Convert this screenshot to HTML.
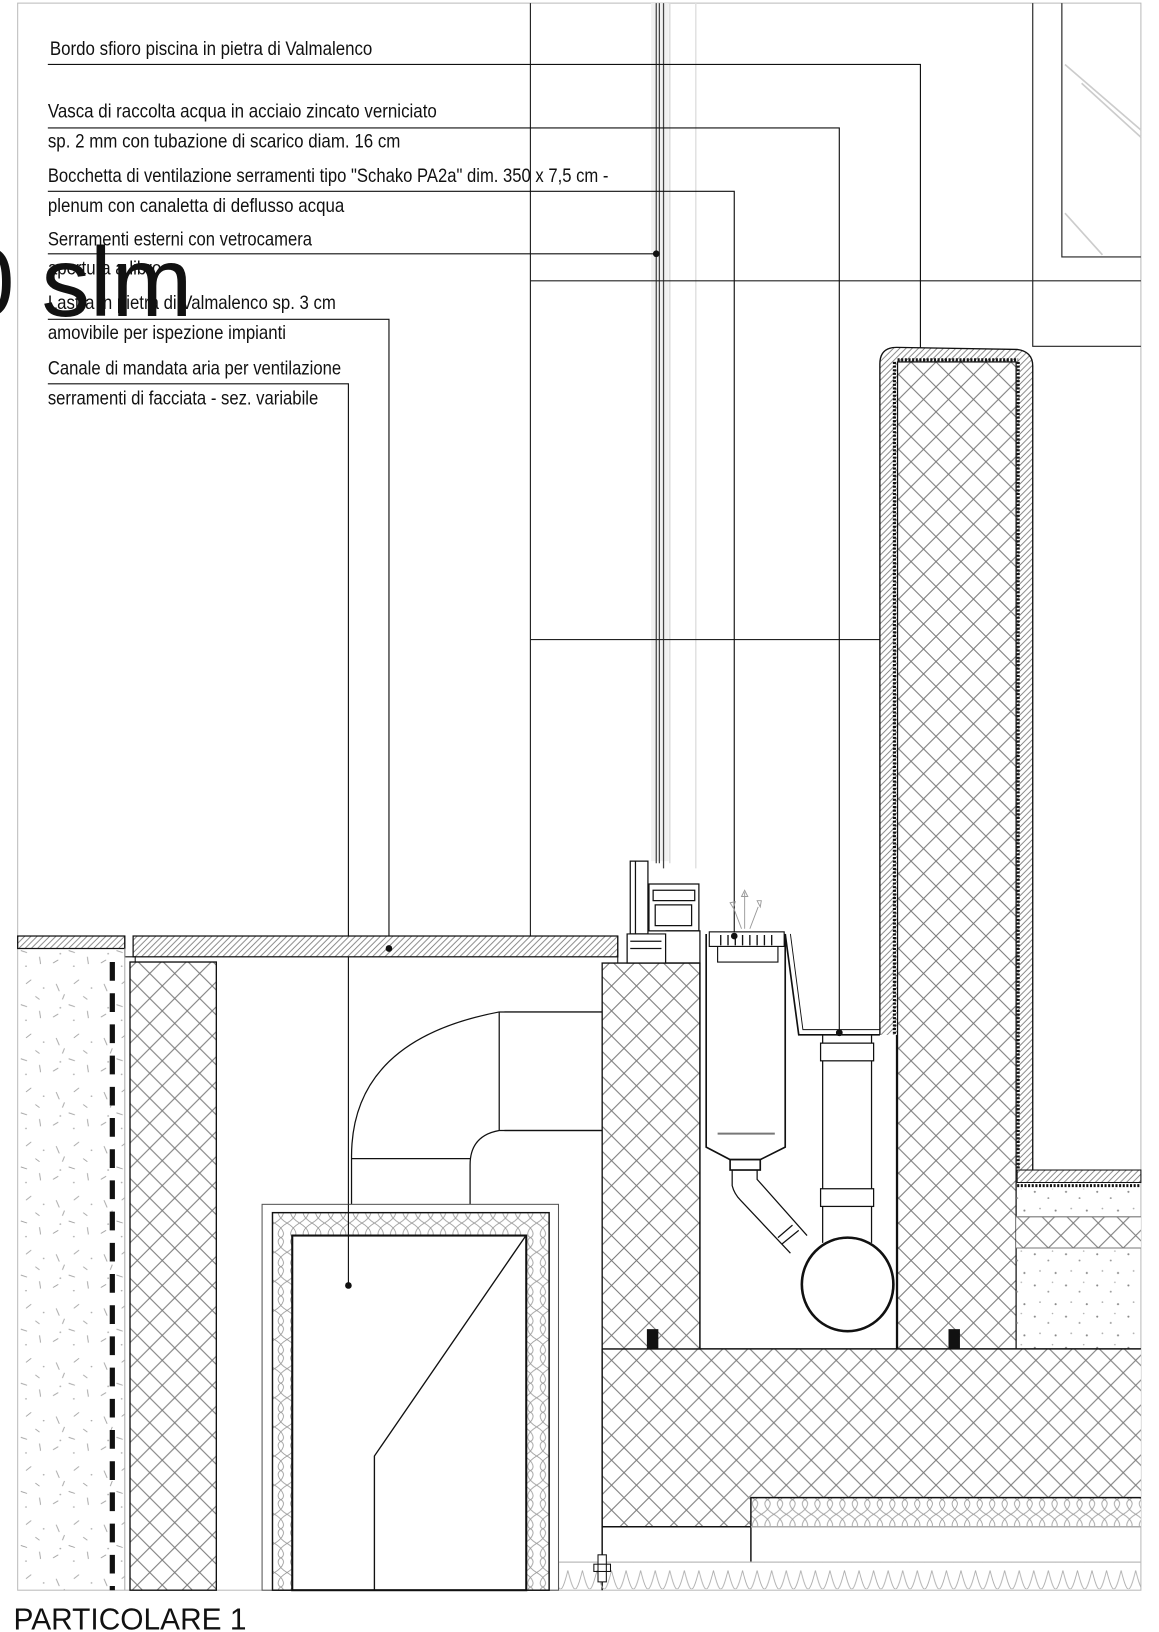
<!DOCTYPE html>
<html><head><meta charset="utf-8"><style>
html,body{margin:0;padding:0;background:#fff;}
svg{display:block;}
text{font-family:"Liberation Sans Narrow","Liberation Sans",sans-serif;fill:#111;}
</style></head><body>
<svg width="1159" height="1632" viewBox="0 0 1114.4 1569.2" preserveAspectRatio="none" xmlns="http://www.w3.org/2000/svg">
<defs>
<pattern id="cr" patternUnits="userSpaceOnUse" width="24" height="24">
<rect width="24" height="24" fill="#fff"/>
<path d="M0 0L24 24M24 0L0 24" stroke="#7a7a7a" stroke-width="1" fill="none"/>
</pattern>
<pattern id="ht" patternUnits="userSpaceOnUse" width="6" height="6">
<rect width="6" height="6" fill="#fff"/>
<path d="M-1 7L7 -1M-1 1L1 -1M5 7L7 5" stroke="#777" stroke-width="0.8"/>
</pattern>
<pattern id="sp" patternUnits="userSpaceOnUse" width="46" height="52">
<path d="M8 10l3 7M30 6l-5 4M20 30l6 2M38 36l1 7M5 42l5-3M16 20l-2 5M34 22l4 3" stroke="#999" stroke-width="0.8"/>
<circle cx="25" cy="45" r="0.8" fill="#aaa"/><circle cx="42" cy="14" r="0.8" fill="#aaa"/><circle cx="12" cy="33" r="0.8" fill="#aaa"/>
</pattern>
<pattern id="sp2" patternUnits="userSpaceOnUse" width="30" height="30">
<circle cx="5" cy="6" r="1" fill="#888"/><circle cx="18" cy="12" r="0.9" fill="#999"/><circle cx="25" cy="24" r="1" fill="#888"/><circle cx="10" cy="22" r="0.8" fill="#aaa"/><circle cx="22" cy="3" r="0.7" fill="#aaa"/>
</pattern>
<pattern id="wv" patternUnits="userSpaceOnUse" width="12" height="28">
<rect width="12" height="28" fill="#fff"/>
<path d="M0 0C10 6 10 12 6 14C2 16 2 22 12 28M12 0C2 6 2 12 6 14C10 16 10 22 0 28" stroke="#999" stroke-width="0.8" fill="none"/>
</pattern>
<pattern id="wvh" patternUnits="userSpaceOnUse" width="14" height="26">
<path d="M0 2C6 26 8 26 14 2" stroke="#aaa" stroke-width="0.8" fill="none"/>
</pattern>
</defs>

<!-- page frame -->
<rect x="17" y="3" width="1080" height="1526" fill="none" stroke="#bbb" stroke-width="1"/>

<!-- glass -->
<rect x="626" y="3" width="17" height="825" fill="#f1f1f1"/>
<g stroke="#444" stroke-width="1.2">
<path d="M631 3V830M634 3V830M638 3V835"/>
</g>
<path d="M644 3V830" stroke="#ddd" stroke-width="1.5"/>
<path d="M669 3V835" stroke="#e2e2e2" stroke-width="1.5"/>

<!-- top grid lines -->
<g stroke="#222" stroke-width="1.1" fill="none">
<path d="M510 3V900"/>
<path d="M510 270H1097"/>
<path d="M510 615H846"/>
<path d="M993 3V333H1097"/>
<path d="M1021 3V247H1097"/>
</g>
<g stroke="#ccc" stroke-width="1.6">
<path d="M1024 62L1097 125M1040 80L1097 132M1024 205L1060 245"/>
</g>

<!-- texts -->
<g font-size="19">
<text x="48" y="53" textLength="310" lengthAdjust="spacingAndGlyphs">Bordo sfioro piscina in pietra di Valmalenco</text>
<text x="46" y="113" textLength="374" lengthAdjust="spacingAndGlyphs">Vasca di raccolta acqua in acciaio zincato verniciato</text>
<text x="46" y="142" textLength="339" lengthAdjust="spacingAndGlyphs">sp. 2 mm con tubazione di scarico diam. 16 cm</text>
<text x="46" y="175" textLength="539" lengthAdjust="spacingAndGlyphs">Bocchetta di ventilazione serramenti tipo "Schako PA2a" dim. 350 x 7,5 cm -</text>
<text x="46" y="204" textLength="285" lengthAdjust="spacingAndGlyphs">plenum con canaletta di deflusso acqua</text>
<text x="46" y="236" textLength="254" lengthAdjust="spacingAndGlyphs">Serramenti esterni con vetrocamera</text>
<text x="46" y="264" textLength="109" lengthAdjust="spacingAndGlyphs">apertura a libro</text>
<text x="46" y="297" textLength="277" lengthAdjust="spacingAndGlyphs">Lastra in pietra di Valmalenco sp. 3 cm</text>
<text x="46" y="326" textLength="229" lengthAdjust="spacingAndGlyphs">amovibile per ispezione impianti</text>
<text x="46" y="360" textLength="282" lengthAdjust="spacingAndGlyphs">Canale di mandata aria per ventilazione</text>
<text x="46" y="389" textLength="260" lengthAdjust="spacingAndGlyphs">serramenti di facciata - sez. variabile</text>
</g>
<text x="-38" y="304" font-size="95" textLength="223" lengthAdjust="spacingAndGlyphs" style="font-family:'Liberation Sans',sans-serif">0 slm</text>
<text x="13" y="1567" font-size="29" textLength="224" lengthAdjust="spacingAndGlyphs" style="font-family:'Liberation Sans Narrow','Liberation Sans',sans-serif">PARTICOLARE 1</text>

<!-- leader lines -->
<g stroke="#111" stroke-width="1.1" fill="none">
<path d="M46 62H885V337"/>
<path d="M46 123H807V993"/>
<path d="M46 184H706V900"/>
<path d="M46 244H631"/>
<path d="M46 307H374V912"/>
<path d="M46 369H335V1236"/>
</g>
<g fill="#111">
<circle cx="885" cy="337" r="3.2"/><circle cx="807" cy="993" r="3.2"/><circle cx="706" cy="900" r="3.2"/>
<circle cx="631" cy="244" r="3.2"/><circle cx="374" cy="912" r="3.2"/><circle cx="335" cy="1236" r="3.2"/>
</g>

<!-- tall right wall -->
<path d="M846 995V350Q846 334 862 334L978 336Q993 338 993 352V1130H978V995Z" fill="url(#ht)" stroke="none"/>
<path d="M846 995V350Q846 334 862 334L978 336Q993 338 993 352V1130H978" fill="none" stroke="#111" stroke-width="1.3"/>
<rect x="863" y="348" width="114" height="950" fill="url(#cr)" stroke="#111" stroke-width="1.2"/>
<path d="M860 348V995M979 348V1132M863 346H979" stroke="#111" stroke-width="3" stroke-dasharray="2 1.5"/>
<!-- right lower layers -->
<rect x="978" y="1125" width="119" height="12" fill="url(#ht)" stroke="#111" stroke-width="1"/>
<path d="M978 1140H1097" stroke="#111" stroke-width="3" stroke-dasharray="2 1.5"/>
<rect x="977" y="1143" width="120" height="27" fill="url(#sp2)"/>
<rect x="977" y="1170" width="120" height="30" fill="url(#cr)"/>
<path d="M977 1170H1097M977 1200H1097" stroke="#777" stroke-width="1"/>
<rect x="977" y="1200" width="120" height="97" fill="url(#sp2)"/>

<!-- bottom slab -->
<rect x="579" y="1297" width="518" height="143" fill="url(#cr)"/>
<rect x="579" y="1440" width="143" height="28" fill="url(#cr)"/>
<rect x="722" y="1440" width="375" height="28" fill="url(#wv)"/>
<path d="M579 1297H1097M579 1297V1529M579 1468H722V1440H1097M722 1468V1502" stroke="#111" stroke-width="1.4" fill="none"/>
<path d="M722 1468H1097" stroke="#aaa" stroke-width="1.5"/>
<rect x="537" y="1502" width="560" height="26" fill="url(#wvh)"/>
<path d="M537 1502H1097M537 1502V1529" stroke="#bbb" stroke-width="1.2" fill="none"/>
<rect x="575" y="1495" width="8" height="26" fill="#fff" stroke="#111" stroke-width="1"/>
<rect x="571" y="1504" width="16" height="7" fill="none" stroke="#111" stroke-width="1"/>

<!-- left cross column by vasca -->
<rect x="579" y="926" width="94" height="371" fill="url(#cr)" stroke="#111" stroke-width="1.3"/>
<path d="M485 973H579M485 1087H579" stroke="#111" stroke-width="1.1"/>
<rect x="622" y="1278" width="11" height="19" fill="#111"/>
<rect x="912" y="1278" width="11" height="19" fill="#111"/>
<path d="M673 926V1297M862 995V1297" stroke="#111" stroke-width="1.2"/>

<!-- window frame -->
<g stroke="#111" stroke-width="1.2" fill="#fff">
<rect x="606" y="828" width="17" height="70"/>
<path d="M611 828V898" fill="none"/>
<path d="M624 850H672V895H624Z"/>
<path d="M628 856H668V866H628ZM630 870L665 870L665 890L630 890Z" fill="none"/>
<path d="M603 898H640V926H603Z" fill="#fff"/>
<path d="M606 905H636M606 912H636" fill="none"/>
<path d="M640 895H673V926H640" fill="none"/>
</g>
<!-- stone plates -->
<rect x="17" y="900" width="103" height="12" fill="url(#ht)" stroke="#111" stroke-width="1.2"/>
<rect x="128" y="900" width="466" height="20" fill="url(#ht)" stroke="#111" stroke-width="1.2"/>
<path d="M120 900V920H130V925H156M594 900V926" stroke="#111" stroke-width="1" fill="none"/>
<circle cx="374" cy="912" r="3.2" fill="#111"/>

<!-- vasca -->
<g stroke="#111" stroke-width="1.6" fill="#fff">
<path d="M679 898V1103L702 1115H731L755 1103V898"/>
<rect x="702" y="1115" width="29" height="10"/>
<path d="M755 898L768 995H846" fill="none"/>
<path d="M760 898L772 990H846" fill="none" stroke-width="0.9"/>
</g>
<path d="M690 1090H745" stroke="#777" stroke-width="2"/>
<g stroke="#111" stroke-width="1.1" fill="#fff">
<rect x="682" y="896" width="72" height="14"/>
<path d="M690 910V925H748V910" fill="none"/>
<path d="M693 899v10M700 899v10M707 899v10M714 899v10M721 899v10M728 899v10M735 899v10M742 899v10" stroke-width="1.3"/>
</g>
<circle cx="706" cy="900" r="3.2" fill="#111"/>
<g stroke="#999" stroke-width="0.9" fill="none">
<path d="M713 893L705 872M716 893V858M721 893L729 872"/>
<path d="M702 868l3 5 2-6zM713 862l3-6 3 6zM728 866l4 0-1 6z"/>
</g>
<!-- pipes -->
<g stroke="#111" stroke-width="1.2" fill="none">
<path d="M704 1125V1140Q706 1148 712 1154L760 1205"/>
<path d="M728 1125V1134L776 1188"/>
<path d="M748 1190L762 1178M752 1196L768 1183" />
<path d="M791 995V1195M838 995V1195"/>
<rect x="789" y="1003" width="51" height="17" fill="#fff"/>
<rect x="789" y="1143" width="51" height="17" fill="#fff"/>
</g>
<circle cx="807" cy="993" r="3.2" fill="#111"/>
<ellipse cx="815" cy="1235" rx="44" ry="45" fill="#fff" stroke="#111" stroke-width="2.5"/>
<ellipse cx="815" cy="1235" rx="42" ry="43" fill="none" stroke="#fff" stroke-width="1"/>

<!-- left pool structure -->
<rect x="17" y="912" width="103" height="617" fill="url(#sp)"/>
<path d="M108 925V1529" stroke="#111" stroke-width="5" stroke-dasharray="18 12"/>
<path d="M120 912V1529" stroke="#aaa" stroke-width="1"/>
<rect x="125" y="925" width="83" height="604" fill="url(#cr)" stroke="#111" stroke-width="1.3"/>

<!-- air duct elbow -->
<g stroke="#111" stroke-width="1.2" fill="none">
<path d="M338 1158V1112Q338 1000 480 973H579"/>
<path d="M480 973V1087"/>
<path d="M338 1114H452"/>
<path d="M579 1087H480Q452 1092 452 1120V1158"/>
</g>
<!-- duct box -->
<rect x="252" y="1158" width="285" height="371" fill="#fff" stroke="#555" stroke-width="1"/>
<rect x="262" y="1166" width="266" height="363" fill="url(#wv)" stroke="#111" stroke-width="1.4"/>
<rect x="281" y="1188" width="225" height="341" fill="#fff" stroke="#111" stroke-width="2"/>
<path d="M505 1189L360 1400V1529" stroke="#111" stroke-width="1.3" fill="none"/>
<path d="M335 1158V1236" stroke="#111" stroke-width="1.1"/>
<circle cx="335" cy="1236" r="3.2" fill="#111"/>
</svg>
</body></html>
